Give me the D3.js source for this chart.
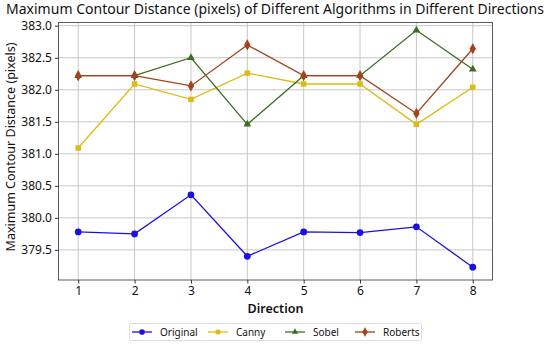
<!DOCTYPE html>
<meta charset="utf-8">
<style>
body, html {
  margin: 0;
  padding: 0;
  background: #fff;
}
text {
  font-family: "Noto Sans", "Open Sans", sans-serif;
  fill: #111;
}
.grid line {
  stroke: #c8c8c8;
  stroke-width: 1;
}
</style>
<div id="chart"></div>
<script src="https://d3js.org/d3.v7.min.js"></script>
<script>
const directions = [1, 2, 3, 4, 5, 6, 7, 8]
const original = [379.78, 379.75, 380.36, 379.40, 379.78, 379.77, 379.86, 379.23]
const canny = [381.09, 382.09, 381.85, 382.26, 382.09, 382.09, 381.46, 382.04]
const sobel = [382.22, 382.22, 382.50, 381.46, 382.22, 382.22, 382.93, 382.32]
const roberts = [382.22, 382.22, 382.06, 382.70, 382.22, 382.22, 381.63, 382.64]
const yTicks = [379.5, 380.0, 380.5, 381.0, 381.5, 382.0, 382.5, 383.0]

const series = [
  {name: "Original", values: original, color: "#1a10e6", symbol: d3.symbolCircle, size: 36},
  {name: "Canny", values: canny, color: "#dcbc10", symbol: d3.symbolSquare, size: 30},
  {name: "Sobel", values: sobel, color: "#3b6e22", symbol: d3.symbolTriangle, size: 26},
  {name: "Roberts", values: roberts, color: "#a3421c", symbol: d3.symbolDiamond, size: 36}
]

const width = 550, height = 345
const margin = {top: 22.5, right: 57.5, bottom: 65, left: 58.5}

const svg = d3.select("#chart").append("svg")
  .attr("width", width)
  .attr("height", height)

const x = d3.scaleLinear().domain([0.65, 8.35]).range([margin.left, width - margin.right])
const y = d3.scaleLinear().domain([379.03, 383.05]).range([height - margin.bottom, margin.top])

// grid
const grid = svg.append("g").attr("class", "grid")
grid.selectAll(".gx").data(directions).enter().append("line")
  .attr("x1", d => x(d)).attr("x2", d => x(d))
  .attr("y1", margin.top).attr("y2", height - margin.bottom)
grid.selectAll(".gy").data(yTicks).enter().append("line")
  .attr("x1", margin.left).attr("x2", width - margin.right)
  .attr("y1", d => y(d)).attr("y2", d => y(d))

// frame
svg.append("rect")
  .attr("x", margin.left).attr("y", margin.top)
  .attr("width", width - margin.left - margin.right)
  .attr("height", height - margin.top - margin.bottom)
  .attr("fill", "none").attr("stroke", "#333").attr("stroke-width", 0.8)

// axes
const xAxis = svg.append("g")
  .attr("transform", "translate(0," + (height - margin.bottom) + ")")
  .call(d3.axisBottom(x).tickValues(directions).tickFormat(d3.format("d")).tickSize(3.5).tickPadding(3))
const yAxis = svg.append("g")
  .attr("transform", "translate(" + margin.left + ",0)")
  .call(d3.axisLeft(y).tickValues(yTicks).tickFormat(d3.format(".1f")).tickSize(3.5).tickPadding(3))
;[xAxis, yAxis].forEach(a => {
  a.selectAll("path").remove()
  a.selectAll("line").attr("stroke", "#333")
  a.selectAll("text").style("font-size", "12px").attr("fill", "#111")
})

// lines and markers
const line = d3.line().x((d, i) => x(directions[i])).y(d => y(d))
series.forEach(s => {
  svg.append("path")
    .attr("d", line(s.values))
    .attr("fill", "none")
    .attr("stroke", s.color)
    .attr("stroke-width", 1.3)
  svg.append("g").selectAll("path").data(s.values).enter().append("path")
    .attr("d", d3.symbol().type(s.symbol).size(s.size))
    .attr("transform", (d, i) => "translate(" + x(directions[i]) + "," + y(d) + ")")
    .attr("fill", s.color)
})

// titles
svg.append("text")
  .attr("x", width / 2).attr("y", 14)
  .attr("text-anchor", "middle")
  .attr("textLength", 538)
  .attr("lengthAdjust", "spacingAndGlyphs")
  .style("font-size", "14px")
  .text("Maximum Contour Distance (pixels) of Different Algorithms in Different Directions")
svg.append("text")
  .attr("x", x(4.5)).attr("y", 313)
  .attr("text-anchor", "middle")
  .style("font-size", "12.5px").style("font-weight", "600")
  .text("Direction")
svg.append("text")
  .attr("transform", "translate(15," + 147 + ") rotate(-90)")
  .attr("text-anchor", "middle")
  .style("font-size", "12.5px")
  .text("Maximum Contour Distance (pixels)")

// legend
const legend = svg.append("g")
legend.append("rect")
  .attr("x", 129.5).attr("y", 323.5).attr("width", 292).attr("height", 17).attr("rx", 2)
  .attr("fill", "#fff").attr("stroke", "#ddd")
const legendText = [160, 236, 313, 383]
series.forEach((s, i) => {
  const g = legend.append("g").attr("transform", "translate(" + (legendText[i] - 28) + ",332)")
  g.append("line").attr("x1", 0).attr("x2", 20).attr("stroke", s.color).attr("stroke-width", 1.3)
  g.append("path").attr("d", d3.symbol().type(s.symbol).size(s.size * 0.7)).attr("transform", "translate(10,0)").attr("fill", s.color)
  g.append("text").attr("x", 28).attr("y", 3.5).style("font-size", "10px").text(s.name)
})
</script>
